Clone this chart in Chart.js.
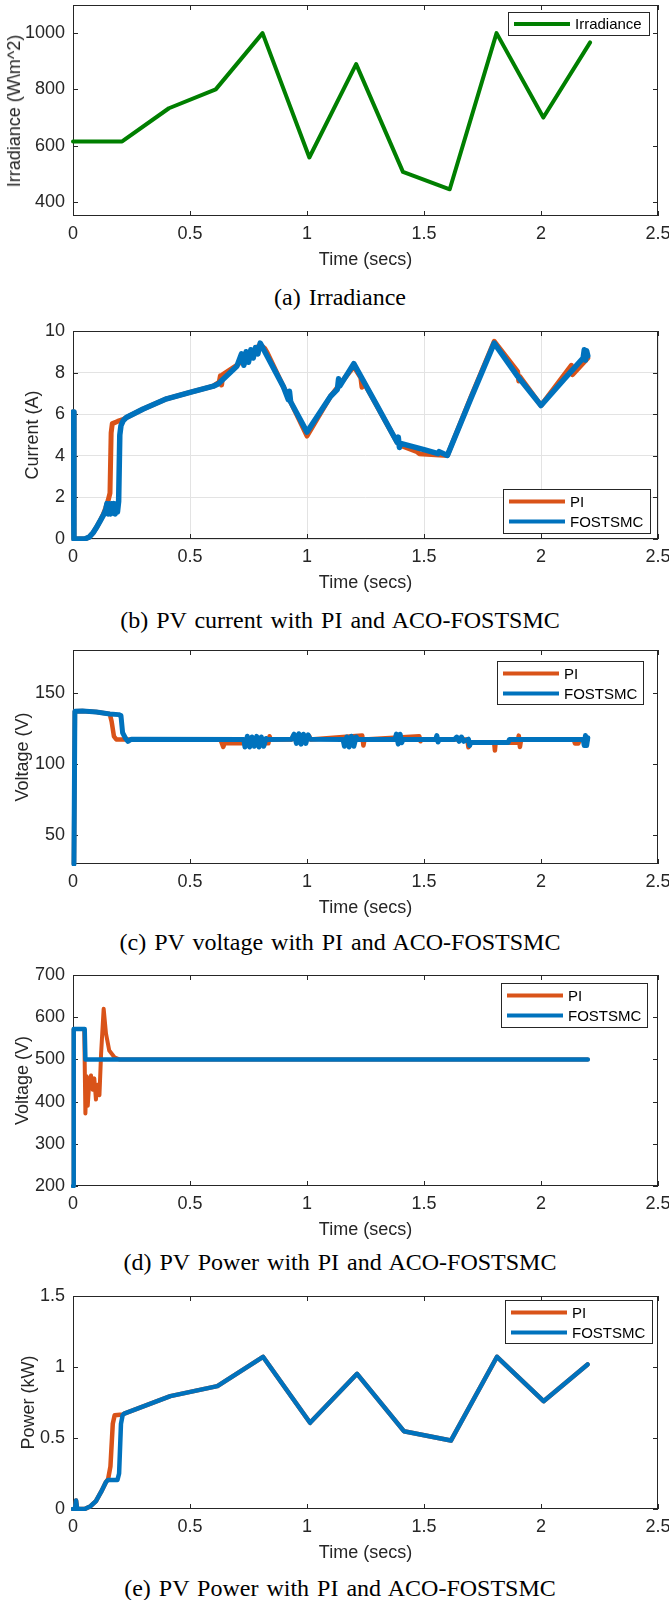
<!DOCTYPE html>
<html>
<head>
<meta charset="utf-8">
<script src="https://cdn.jsdelivr.net/npm/chart.js@4.4.1/dist/chart.umd.min.js"></script>
<style>
  body { margin: 0; background: #fff; width: 669px; height: 1600px; position: relative; overflow: hidden; }
  canvas { position: absolute; left: 0; }
  .cap { position: absolute; left: 340px; transform: translateX(-50%); white-space: nowrap;
         font: 24px 'Liberation Serif', 'Times New Roman', serif; line-height: 24px; color: #000; word-spacing: 2px; }
  .ytitle { position: absolute; white-space: nowrap; font: 18px 'Liberation Sans', Arial, sans-serif;
            line-height: 22px; color: #262626; transform: translate(-50%, -50%) rotate(-90deg); }
</style>
</head>
<body>
<canvas id="irr" width="669" height="276" style="top:0px"></canvas>
<div class="ytitle" style="left:14px;top:111px">Irradiance (W&#92;m^2)</div>
<div class="cap" style="top:285px">(a) Irradiance</div>
<canvas id="cur" width="669" height="280" style="top:319px"></canvas>
<div class="cap" style="top:608px">(b) PV current with PI and ACO-FOSTSMC</div>
<canvas id="volt" width="669" height="286" style="top:638px"></canvas>
<div class="cap" style="top:930px">(c) PV voltage with PI and ACO-FOSTSMC</div>
<canvas id="dc" width="669" height="283" style="top:963px"></canvas>
<div class="cap" style="top:1250px">(d) PV Power with PI and ACO-FOSTSMC</div>
<canvas id="pow" width="669" height="285" style="top:1284px"></canvas>
<div class="cap" style="top:1576px">(e) PV Power with PI and ACO-FOSTSMC</div>

<script>
// ---- data ----
const xTicks = [0, 0.5, 1, 1.5, 2, 2.5];

// (a) irradiance
const irrTime = [0, 0.21, 0.41, 0.61, 0.81, 1.01, 1.21, 1.41, 1.61, 1.81, 2.01, 2.21];
const irrValue = [615, 615, 733, 800, 1000, 558, 890, 507, 445, 1000, 700, 967];
const irrTicks = [400, 600, 800, 1000];

// (b) PV current
const curTimeF = [0, 0.004, 0.05, 0.07, 0.086, 0.1, 0.115, 0.13, 0.14, 0.145, 0.15, 0.155, 0.16, 0.165,
  0.17, 0.175, 0.18, 0.185, 0.19, 0.195, 0.2, 0.205, 0.215, 0.228, 0.3, 0.4, 0.5, 0.6, 0.62, 0.7,
  0.72, 0.73, 0.74, 0.75, 0.76, 0.77, 0.78, 0.79, 0.8, 0.9, 0.92, 0.925, 0.93, 1.0, 1.1, 1.13,
  1.135, 1.14, 1.2, 1.3, 1.385, 1.39, 1.395, 1.4, 1.5, 1.56, 1.565, 1.6, 1.7, 1.8, 1.9, 2.0, 2.1,
  2.18, 2.185, 2.19, 2.195, 2.2];
const curFOSTSMC = [6.1, 0, 0, 0.1, 0.3, 0.55, 0.85, 1.15, 1.4, 1.7, 1.2, 1.7, 1.2, 1.7,
  1.25, 1.7, 1.2, 1.7, 1.3, 1.8, 5.0, 5.45, 5.7, 5.84, 6.25, 6.74, 7.05, 7.35, 7.45, 8.3,
  8.9, 8.35, 9.0, 8.5, 9.1, 8.7, 9.2, 8.9, 9.42, 7.3, 6.7, 7.1, 6.6, 5.14, 6.85, 7.2,
  7.7, 7.35, 8.43, 6.4, 4.65, 4.9, 4.4, 4.6, 4.3, 4.1, 4.2, 4.02, 6.75, 9.42, 7.82, 6.42, 7.7,
  8.7, 9.1, 8.6, 9.05, 8.8];
const curTimeP = [0, 0.004, 0.05, 0.07, 0.086, 0.1, 0.115, 0.13, 0.14, 0.15, 0.158, 0.163, 0.168,
  0.19, 0.215, 0.228, 0.3, 0.4, 0.5, 0.6, 0.625, 0.63, 0.635, 0.64, 0.7, 0.8, 0.82, 0.83, 0.9,
  1.0, 1.1, 1.2, 1.23, 1.235, 1.24, 1.385, 1.4, 1.47, 1.48, 1.6, 1.7, 1.8, 1.9, 1.905, 1.91,
  2.0, 2.13, 2.135, 2.2];
const curPI = [6.1, 0, 0, 0.1, 0.3, 0.55, 0.85, 1.2, 1.5, 1.85, 2.2, 5.1, 5.55,
  5.65, 5.75, 5.84, 6.25, 6.74, 7.05, 7.35, 7.55, 7.85, 7.4, 7.9, 8.35, 9.35, 9.15, 8.95, 7.3,
  4.95, 6.85, 8.3, 7.75, 7.3, 7.6, 4.65, 4.5, 4.2, 4.1, 4.02, 6.8, 9.5, 8.05, 7.6, 7.8,
  6.42, 8.35, 7.9, 8.7];
const curTicks = [0, 2, 4, 6, 8, 10];

// (c) PV voltage
const voltTimeF = [0.004, 0.008, 0.04, 0.1, 0.157, 0.195, 0.205, 0.212, 0.225, 0.235, 0.25,
  0.73, 0.735, 0.745, 0.755, 0.765, 0.775, 0.785, 0.795, 0.805, 0.815, 0.825, 0.83,
  0.935, 0.945, 0.955, 0.965, 0.975, 0.985, 0.995, 1.005, 1.013,
  1.154, 1.16, 1.17, 1.18, 1.19, 1.2, 1.21, 1.218,
  1.376, 1.382, 1.39, 1.398, 1.405, 1.41, 1.55, 1.555, 1.56, 1.565,
  1.63, 1.64, 1.65, 1.66, 1.67, 1.69, 1.695, 1.7, 1.86, 1.865,
  2.18, 2.185, 2.19, 2.195, 2.2];
const voltFOSTSMC = [30, 137, 137.2, 136.5, 135.2, 134.7, 134, 122, 118, 116, 117.5,
  117.3, 112, 119.5, 112, 119, 112.5, 119.5, 112, 119, 112.5, 118, 117.3,
  117.5, 121, 114.5, 121.3, 114, 121, 114.5, 120.5, 117.5,
  117.3, 112.5, 119, 112, 119.5, 112.5, 119, 117.3,
  117.3, 121, 114, 121, 115, 117.3, 117.3, 120, 115.5, 117.3,
  117.3, 119, 116, 119, 116, 117.5, 113, 115.2, 115.2, 117.3,
  117.3, 113, 120, 113, 118.5];
const voltTimeP = [0.004, 0.008, 0.04, 0.1, 0.157, 0.165, 0.175, 0.185, 0.63, 0.642, 0.648,
  0.835, 0.84, 0.845, 0.935, 0.94, 1.01, 1.015, 1.236, 1.241, 1.246, 1.48, 1.485, 1.49,
  1.685, 1.69, 1.7, 1.8, 1.803, 1.806, 1.9, 1.905, 1.91, 1.915, 2.14, 2.145, 2.16, 2.165, 2.2];
const voltPI = [30, 137, 137.2, 136.5, 135.2, 130, 119.5, 117.3, 117.3, 112, 114.6,
  114.6, 119.5, 117.3, 117.3, 119.6, 119.6, 117.3, 120, 113, 117.3, 119.5, 116, 117.3,
  117.3, 111.8, 115, 115, 109.5, 115, 115, 120, 112, 117.3, 117.3, 114.5, 114.5, 117.3, 117.3];
const voltTicks = [50, 100, 150];

// (d) output voltage
const dcTimeF = [0, 0.003, 0.05, 0.053, 2.2];
const dcFOSTSMC = [200, 572, 572, 500, 500];
const dcTimeP = [0, 0.003, 0.048, 0.053, 0.058, 0.063, 0.07, 0.077, 0.084, 0.091, 0.098, 0.105,
  0.113, 0.12, 0.131, 0.141, 0.155, 0.177, 0.198, 2.2];
const dcPI = [200, 572, 572, 372, 460, 390, 450, 462, 428, 455, 405, 440,
  415, 513, 620, 561, 521, 505, 500, 500];
const dcTicks = [200, 300, 400, 500, 600, 700];

// (e) PV power
const powTimeF = [0, 0.008, 0.013, 0.018, 0.05, 0.075, 0.098, 0.12, 0.141, 0.15, 0.19, 0.197,
  0.205, 0.212, 0.219, 0.416, 0.617, 0.812, 1.013, 1.214, 1.414, 1.615, 1.812, 2.011, 2.199];
const powFOSTSMC = [0, 0, 0.06, 0, 0, 0.02, 0.056, 0.12, 0.19, 0.205, 0.205, 0.25,
  0.6, 0.66, 0.672, 0.795, 0.865, 1.072, 0.607, 0.952, 0.548, 0.482, 1.072, 0.759, 1.018];
const powTimeP = [0, 0.008, 0.013, 0.018, 0.05, 0.075, 0.098, 0.12, 0.141, 0.15, 0.16, 0.17,
  0.178, 0.212, 0.219, 0.416, 0.617, 0.812, 1.013, 1.214, 1.414, 1.615, 1.812, 2.011, 2.199];
const powPI = [0, 0, 0.06, 0, 0, 0.02, 0.056, 0.12, 0.19, 0.21, 0.3, 0.6,
  0.66, 0.665, 0.672, 0.795, 0.865, 1.072, 0.607, 0.952, 0.548, 0.482, 1.072, 0.759, 1.018];
const powTicks = [0, 0.5, 1, 1.5];

// ---- styling ----
const AXIS = "#262626";
const C_PI = "#D95319";
const C_FO = "#0072BD";
const C_IRR = "#007F00";
const FONT = "'Liberation Sans', Arial, sans-serif";

Chart.defaults.font.family = FONT;
Chart.defaults.font.size = 18;
Chart.defaults.color = AXIS;

const toXY = (t, v) => t.map((x, i) => ({ x, y: v[i] }));

// MATLAB-like box with inward ticks on all four sides
const matlabAxes = {
  id: "matlabAxes",
  beforeDatasetsDraw(chart) {
    const { ctx, chartArea: a, scales: { x, y } } = chart;
    const T = 5;
    ctx.save();
    ctx.strokeStyle = AXIS;
    ctx.lineWidth = 1;
    ctx.strokeRect(Math.round(a.left) + 0.5, Math.round(a.top) + 0.5,
      Math.round(a.width) - 1, Math.round(a.height) - 1);
    ctx.beginPath();
    x.ticks.forEach((t) => {
      const px = Math.round(x.getPixelForValue(t.value)) + 0.5;
      ctx.moveTo(px, a.bottom); ctx.lineTo(px, a.bottom - T);
      ctx.moveTo(px, a.top); ctx.lineTo(px, a.top + T);
    });
    y.ticks.forEach((t) => {
      const py = Math.round(y.getPixelForValue(t.value)) + 0.5;
      ctx.moveTo(a.left, py); ctx.lineTo(a.left + T, py);
      ctx.moveTo(a.right, py); ctx.lineTo(a.right - T, py);
    });
    ctx.stroke();
    ctx.restore();
  },
};

// boxed legend inside the axes
const boxLegend = {
  id: "boxLegend",
  afterDatasetsDraw(chart, args, o) {
    if (!o.items) return;
    const { ctx, chartArea: a } = chart;
    const x = Math.round(a.right - o.right - o.w);
    const y = Math.round(o.top != null ? a.top + o.top : a.bottom - o.bottom - o.h);
    ctx.save();
    ctx.fillStyle = "#fff";
    ctx.fillRect(x, y, o.w, o.h);
    ctx.strokeStyle = AXIS;
    ctx.lineWidth = 1;
    ctx.strokeRect(x + 0.5, y + 0.5, o.w - 1, o.h - 1);
    const n = o.items.length;
    const y0 = n === 1 ? y + o.h / 2 : y + 12.5;
    o.items.forEach((it, i) => {
      const cy = y0 + i * 20;
      ctx.strokeStyle = it.color;
      ctx.lineWidth = 4;
      ctx.beginPath();
      ctx.moveTo(x + 6, cy);
      ctx.lineTo(x + 62, cy);
      ctx.stroke();
      ctx.fillStyle = "#000";
      ctx.font = "15px " + FONT;
      ctx.textAlign = "left";
      ctx.textBaseline = "middle";
      ctx.fillText(it.label, x + 67, cy + 1);
    });
    ctx.restore();
  },
};

const lineSet = (label, data, color, order, width) => ({
  label, data, order,
  borderColor: color,
  borderWidth: width,
  pointRadius: 0,
  tension: 0,
  fill: false,
  borderJoinStyle: "round",
  borderCapStyle: "round",
  clip: 2,
});

const plainTick = (v) => String(v);

const makePanel = (id, p) => {
  const gridOpts = { display: !!p.grid, color: "#e3e3e3", lineWidth: 1, drawTicks: false };
  new Chart(document.getElementById(id).getContext("2d"), {
    type: "line",
    data: { datasets: p.datasets },
    plugins: [matlabAxes, boxLegend],
    options: {
      responsive: false,
      animation: false,
      devicePixelRatio: 1,
      layout: { padding: { top: p.padTop, right: 11, left: 0, bottom: 0 } },
      plugins: { legend: { display: false }, tooltip: { enabled: false }, boxLegend: p.legend },
      scales: {
        x: {
          type: "linear", min: 0, max: 2.5,
          afterBuildTicks: (s) => { s.ticks = xTicks.map((v) => ({ value: v })); },
          afterFit: (s) => { s.height = 60; s.paddingLeft = 0; s.paddingRight = 0; },
          ticks: { padding: 7, maxRotation: 0, autoSkip: false, callback: plainTick },
          grid: gridOpts,
          border: { display: false },
          title: { display: true, text: "Time (secs)", padding: { top: 0, bottom: 5 } },
        },
        y: {
          type: "linear", min: p.yMin, max: p.yMax,
          afterBuildTicks: (s) => { s.ticks = p.yTicks.map((v) => ({ value: v })); },
          afterFit: (s) => { s.width = 73; s.paddingTop = 0; s.paddingBottom = 0; },
          ticks: { padding: 8, autoSkip: false, callback: plainTick },
          grid: gridOpts,
          border: { display: false },
          title: { display: !!p.yTitle, text: p.yTitle || "", padding: { top: p.yTitlePad, bottom: 0 } },
        },
      },
    },
  });
};

const twoItems = [{ label: "PI", color: C_PI }, { label: "FOSTSMC", color: C_FO }];

// panel (a) y title is an HTML label (see .ytitle) so the backslash renders reliably
makePanel("irr", {
  padTop: 5, yMin: 350, yMax: 1100, yTicks: irrTicks, yTitle: null, yTitlePad: 3,
  legend: { right: 8, top: 7, w: 142, h: 24, items: [{ label: "Irradiance", color: C_IRR }] },
  datasets: [lineSet("Irradiance", toXY(irrTime, irrValue), C_IRR, 0, 4)],
});

makePanel("cur", {
  padTop: 12, yMin: 0, yMax: 10, yTicks: curTicks, yTitle: "Current (A)", yTitlePad: 22, grid: true,
  legend: { right: 7, bottom: 5, w: 148, h: 45, items: twoItems },
  datasets: [
    lineSet("FOSTSMC", toXY(curTimeF, curFOSTSMC), C_FO, 0, 5.5),
    lineSet("PI", toXY(curTimeP, curPI), C_PI, 1, 5),
  ],
});

makePanel("volt", {
  padTop: 12, yMin: 30, yMax: 180, yTicks: voltTicks, yTitle: "Voltage (V)", yTitlePad: 12,
  legend: { right: 14, top: 11, w: 147, h: 44, items: twoItems },
  datasets: [
    lineSet("FOSTSMC", toXY(voltTimeF, voltFOSTSMC), C_FO, 0, 5),
    lineSet("PI", toXY(voltTimeP, voltPI), C_PI, 1, 4.5),
  ],
});

makePanel("dc", {
  padTop: 12, yMin: 200, yMax: 700, yTicks: dcTicks, yTitle: "Voltage (V)", yTitlePad: 12,
  legend: { right: 10, top: 8, w: 147, h: 45, items: twoItems },
  datasets: [
    lineSet("FOSTSMC", toXY(dcTimeF, dcFOSTSMC), C_FO, 0, 4.5),
    lineSet("PI", toXY(dcTimeP, dcPI), C_PI, 1, 4),
  ],
});

makePanel("pow", {
  padTop: 12, yMin: 0, yMax: 1.5, yTicks: powTicks, yTitle: "Power (kW)", yTitlePad: 18,
  legend: { right: 5, top: 4, w: 148, h: 44, items: twoItems },
  datasets: [
    lineSet("FOSTSMC", toXY(powTimeF, powFOSTSMC), C_FO, 0, 4.5),
    lineSet("PI", toXY(powTimeP, powPI), C_PI, 1, 4.5),
  ],
});
</script>
</body>
</html>
